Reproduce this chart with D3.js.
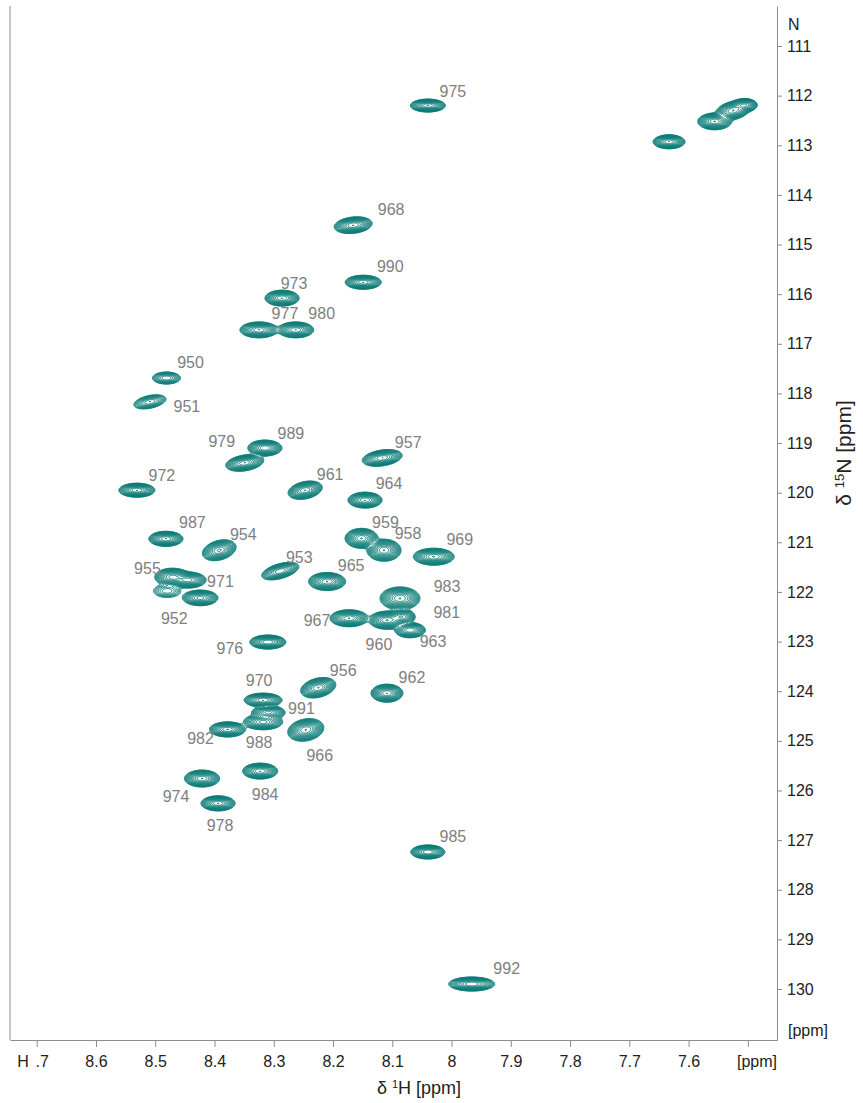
<!DOCTYPE html>
<html>
<head>
<meta charset="utf-8">
<script src="https://cdn.jsdelivr.net/npm/d3@7"></script>
<style>
  body { margin: 0; background: #fff; }
  svg { display: block; }
  text { font-family: Arial, "Liberation Sans", Helvetica, sans-serif; }
</style>
</head>
<body>
<svg id="chart" width="863" height="1103"></svg>
<script>
// 1H-15N HSQC peak list (residue numbers; unassigned side-chain peaks have no label)
const peakLabels = ["975","968","990","973","977","980","950","951","979","989","957","972","961","964","987","954","955","971","952","","959","958","969","953","965","983","967","960","981","963","976","970","991","988","982","956","962","966","984","974","978","985","992","","","",""];
const shiftH =     [8.040,8.166,8.149,8.286,8.325,8.263,8.481,8.509,8.349,8.315,8.117,8.531,8.247,8.146,8.482,8.392,8.471,8.444,8.424,8.480,8.152,8.114,8.030,8.289,8.210,8.087,8.173,8.109,8.084,8.070,8.310,8.318,8.309,8.318,8.378,8.225,8.109,8.246,8.323,8.421,8.394,8.040,7.966,7.633,7.525,7.556,7.505];
const shiftN =     [112.20,114.61,115.76,116.08,116.72,116.72,117.69,118.17,119.40,119.10,119.30,119.95,119.95,120.15,120.93,121.16,121.70,121.76,122.12,121.98,120.92,121.16,121.29,121.58,121.79,122.13,122.53,122.57,122.50,122.77,123.01,124.18,124.43,124.62,124.77,123.93,124.04,124.78,125.61,125.76,126.26,127.24,129.90,112.93,112.30,112.52,112.19];
const intensity =  [40,40,40,40,40,40,14,14,40,40,40,40,40,40,40,32,35,35,35,6,40,40,40,30,40,40,40,40,30,30,40,40,35,35,40,40,40,40,40,40,40,40,40,40,40,40,30];
// Gaussian line widths (sigma, ppm) and H/N cross-correlation of each peak
const widthH =     [0.0109,0.0118,0.0112,0.0106,0.0118,0.0112,0.0103,0.0118,0.0118,0.0106,0.0124,0.0112,0.0106,0.0106,0.0106,0.0108,0.0112,0.0112,0.0112,0.0120,0.0102,0.0106,0.0127,0.0120,0.0115,0.0124,0.0118,0.0112,0.0087,0.0099,0.0112,0.0118,0.0106,0.0124,0.0112,0.0109,0.0099,0.0112,0.0109,0.0109,0.0106,0.0106,0.0143,0.0099,0.0108,0.0105,0.0080];
const widthN =     [0.048,0.062,0.052,0.059,0.059,0.059,0.053,0.062,0.062,0.059,0.062,0.052,0.068,0.059,0.056,0.080,0.067,0.060,0.059,0.070,0.074,0.082,0.063,0.068,0.067,0.085,0.063,0.067,0.059,0.059,0.052,0.052,0.052,0.059,0.056,0.076,0.067,0.084,0.059,0.063,0.056,0.052,0.052,0.052,0.072,0.062,0.050];
const correlation =[0,0.2,0,0,0,0,0,0.4,0.3,0,0.3,0,0.3,0,0,0.3,0,0,0,0,0,0,0,0.5,0,0,0,0,0,0,0,0,0,0,0,0.3,0,0.2,0,0,0,0,0,0,0.3,0,0];

const hTicks = [8.7,8.6,8.5,8.4,8.3,8.2,8.1,8.0,7.9,7.8,7.7,7.6,7.5];
const nTicks = d3.range(111, 131);

// label placement (label centre relative to the peak centre, px)
const labelPlacement = {
  "975":[25,-14.5],"968":[38,-16],"990":[27,-16],"973":[12,-15],"977":[26,-16],"980":[26,-16],
  "950":[24,-16],"951":[37,5],"979":[-23,-21],"989":[26,-15],"957":[26,-16],"972":[25,-15],
  "961":[25,-16],"964":[24,-17],"987":[26.5,-16],"954":[24,-16],"955":[-25,-9],"971":[32,1],
  "952":[-26,21],"959":[24,-16],"958":[24,-16.5],"969":[26,-17],"953":[19,-14],"965":[24,-16],
  "983":[47,-12],"967":[-32,2],"960":[-8,24],"981":[45,-4],"963":[23,11],"976":[-38,6],
  "970":[-4,-20],"991":[33,-4],"988":[-4,20],"982":[-27,9],"956":[25,-17],"962":[25,-16],
  "966":[14,25],"984":[5,23.5],"974":[-26,18],"978":[2,22],"985":[25,-16],"992":[35,-16]
};

const frame = { left: 10, right: 777, top: 6, bottom: 1040 };
const contourColor = "#0a7b76";
const axisColor = "#8c8c8c";
const textColor = "#222";
const labelColor = "#808080";

const x = d3.scaleLinear().domain([8.7451, 7.4508]).range([frame.left, frame.right]);
const y = d3.scaleLinear().domain([110.194, 131.028]).range([frame.top, frame.bottom]);

const svg = d3.select("#chart");

// ---- intensity field on a pixel grid covering the plot frame ----
const n = frame.right - frame.left;
const m = frame.bottom - frame.top;
const field = new Float64Array(n * m);
const colH = new Float64Array(n), rowN = new Float64Array(m);
for (let i = 0; i < n; i++) colH[i] = x.invert(frame.left + i + 0.5);
for (let j = 0; j < m; j++) rowN[j] = y.invert(frame.top + j + 0.5);

shiftH.forEach((h0, k) => {
  const n0 = shiftN[k], A = intensity[k], sH = widthH[k], sN = widthN[k], r = correlation[k];
  const i0 = Math.max(0, Math.floor(x(h0 + 5 * sH) - frame.left));
  const i1 = Math.min(n - 1, Math.ceil(x(h0 - 5 * sH) - frame.left));
  const j0 = Math.max(0, Math.floor(y(n0 - 5 * sN) - frame.top));
  const j1 = Math.min(m - 1, Math.ceil(y(n0 + 5 * sN) - frame.top));
  const denom = 2 * (1 - r * r);
  for (let j = j0; j <= j1; j++) {
    const v = (rowN[j] - n0) / sN;
    for (let i = i0; i <= i1; i++) {
      const u = (colH[i] - h0) / sH;
      field[j * n + i] += A * Math.exp(-(u * u - 2 * r * u * v + v * v) / denom);
    }
  }
});

// geometric contour levels, as in a spectrum contour plot
const levels = d3.range(0, 22).map(k => Math.pow(1.3, k));
const contours = d3.contours().size([n, m]).thresholds(levels)(Array.from(field));

svg.append("defs").append("clipPath").attr("id", "plotClip")
  .append("rect").attr("x", frame.left).attr("y", frame.top)
  .attr("width", n).attr("height", m);

svg.append("g")
  .attr("clip-path", "url(#plotClip)")
  .append("g")
  .attr("transform", `translate(${frame.left},${frame.top})`)
  .selectAll("path")
  .data(contours)
  .join("path")
  .attr("d", d3.geoPath())
  .attr("fill", "none")
  .attr("stroke", contourColor)
  .attr("stroke-width", 1);

// ---- peak labels ----
svg.append("g")
  .selectAll("text")
  .data(peakLabels.map((t, k) => ({ t, k })).filter(d => d.t !== ""))
  .join("text")
  .attr("x", d => x(shiftH[d.k]) + labelPlacement[d.t][0])
  .attr("y", d => y(shiftN[d.k]) + labelPlacement[d.t][1])
  .attr("dy", "0.35em")
  .attr("text-anchor", "middle")
  .attr("font-size", 16)
  .attr("fill", labelColor)
  .text(d => d.t);

// ---- axes ----
// the first 1H tick sits under the nucleus marker, so only its decimals show
const fmt = d => (d === 7.5 ? "" : d === 8.7 ? ".7" : d3.format("~g")(d));
const xAxis = svg.append("g")
  .attr("transform", `translate(0,${frame.bottom})`)
  .call(d3.axisBottom(x).tickValues(hTicks).tickSize(7).tickPadding(9).tickSizeOuter(0).tickFormat(fmt));
xAxis.selectAll("text").attr("font-size", 16).attr("fill", textColor).attr("font-family", null)
  .attr("dx", d => (d === 8.7 ? 5 : 0));
xAxis.selectAll("line,path").attr("stroke", axisColor);

const yAxis = svg.append("g")
  .attr("transform", `translate(${frame.right},0)`)
  .call(d3.axisRight(y).tickValues(nTicks).tickSize(5).tickPadding(5).tickSizeOuter(0));
yAxis.selectAll("text").attr("font-size", 16).attr("fill", textColor).attr("font-family", null);
yAxis.selectAll("line,path").attr("stroke", axisColor);

svg.append("line")
  .attr("x1", frame.left).attr("x2", frame.left)
  .attr("y1", frame.top).attr("y2", frame.bottom)
  .attr("stroke", axisColor);

// nucleus markers and units
svg.append("text").attr("x", 23).attr("y", 1067).attr("text-anchor", "middle")
  .attr("font-size", 16).attr("fill", textColor).text("H");
svg.append("text").attr("x", 757).attr("y", 1067).attr("text-anchor", "middle")
  .attr("font-size", 16).attr("fill", textColor).text("[ppm]");
svg.append("text").attr("x", 788).attr("y", 30)
  .attr("font-size", 16).attr("fill", textColor).text("N");
svg.append("text").attr("x", 788).attr("y", 1036)
  .attr("font-size", 16).attr("fill", textColor).text("[ppm]");

// axis titles
const xTitle = svg.append("text").attr("x", 419).attr("y", 1094)
  .attr("text-anchor", "middle").attr("font-size", 18).attr("fill", textColor);
xTitle.append("tspan").text("δ ");
xTitle.append("tspan").attr("font-size", 11).attr("baseline-shift", "6").text("1");
xTitle.append("tspan").text("H [ppm]");

const yTitle = svg.append("text")
  .attr("transform", "translate(851,453) rotate(-90)")
  .attr("text-anchor", "middle").attr("font-size", 21).attr("fill", textColor);
yTitle.append("tspan").text("δ ");
yTitle.append("tspan").attr("font-size", 13).attr("baseline-shift", "7").text("15");
yTitle.append("tspan").text("N [ppm]");
</script>
</body>
</html>
